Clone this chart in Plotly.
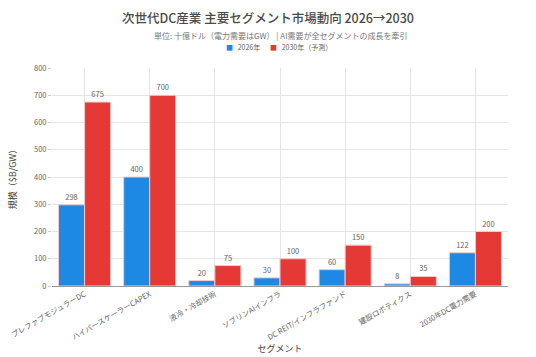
import plotly.graph_objects as go

categories = ["プレファブモジュラーDC", "ハイパースケーラーCAPEX", "液冷・冷却技術", "ソブリンAIインフラ",
              "DC REIT/インフラファンド", "建設ロボティクス", "2030年DC電力需要"]
values_2026 = [298, 400, 20, 30, 60, 8, 122]
values_2030 = [675, 700, 75, 100, 150, 35, 200]
series_names = ["2026年", "2030年（予測）"]
series_colors = ["#1E88E5", "#E53935"]
y_ticks = [0, 100, 200, 300, 400, 500, 600, 700, 800]

FONT = "Noto Sans CJK JP, Noto Sans, sans-serif"

fig = go.Figure()
for name, vals, col in zip(series_names, [values_2026, values_2030], series_colors):
    fig.add_trace(go.Bar(name=name, x=categories, y=vals, marker_color=col,
                         marker_line=dict(color="#F5CACA", width=1),
                         text=vals, textposition="outside",
                         textfont=dict(size=7.5, color="#666"), cliponaxis=False))

legend_ann = []
lx = [0.378, 0.473]
for i, (name, col) in enumerate(zip(series_names, series_colors)):
    legend_ann.append(dict(text=f"<span style='color:{col}'>■</span>   {name}",
                           x=lx[i], xref="paper", xanchor="left",
                           y=1.097, yref="paper", yanchor="middle",
                           showarrow=False, font=dict(size=7, color="#666")))

fig.update_layout(
    width=536, height=357,
    margin=dict(l=52, r=28, t=68, b=71, autoexpand=False),
    paper_bgcolor="white", plot_bgcolor="white",
    font=dict(family=FONT, size=8, color="#666"),
    barmode="group", bargap=0.2, bargroupgap=0,
    title=dict(text="次世代DC産業 主要セグメント市場動向 2026→2030", x=0.5, xanchor="center",
               y=0.947, yanchor="middle", font=dict(size=12.5, color="#4a4a4a", weight=500)),
    showlegend=False,
    annotations=[dict(text="単位: 十億ドル（電力需要はGW） | AI需要が全セグメントの成長を牽引",
                      x=0.5, xref="paper", y=1.147, yref="paper", yanchor="middle",
                      showarrow=False, font=dict(size=8, color="#777"))] + legend_ann,
)
fig.update_xaxes(title=dict(text="セグメント", font=dict(size=9, color="#444"), standoff=4),
                 tickangle=-30, tickfont=dict(size=7.5, color="#666"), automargin=False,
                 showgrid=True, gridcolor="#E5E5E5", showline=True, linecolor="#999",
                 ticks="")
fig.update_yaxes(title=dict(text="規模（$B/GW）", font=dict(size=9, color="#444")),
                 range=[0, 800], tickvals=y_ticks, tickfont=dict(size=7.5, color="#666"),
                 gridcolor="#E5E5E5", zeroline=False, ticks="outside", ticklen=3,
                 tickcolor="#ccc", showline=False, automargin=False)
fig.write_html("out.html", config={"displayModeBar": False},
               post_script="document.body.style.margin='0';")
